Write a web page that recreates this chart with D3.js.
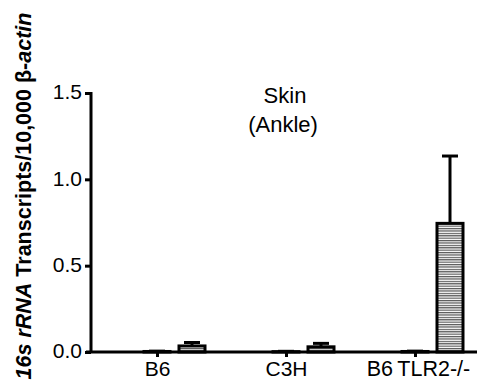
<!DOCTYPE html>
<html>
<head>
<meta charset="utf-8">
<script src="https://cdn.jsdelivr.net/npm/d3@7"></script>
<style>
body{margin:0;background:#fff}
text{font-family:Arial,"Liberation Sans",sans-serif}
</style>
</head>
<body>
<script>
var WIDTH = 477, HEIGHT = 392

var groups = ['B6', 'C3H', 'B6TLR2-/-']
var groupLabels = ['B6', 'C3H', 'B6\u2009TLR2-/-']
var controlMean = [0.003, 0.002, 0.003]
var controlErr = [0.002, 0.002, 0.002]
var infectedMean = [0.035, 0.03, 0.745]
var infectedErr = [0.02, 0.02, 0.39]
var yTicks = [0, 0.5, 1.0, 1.5]

var svg = d3.select('body').append('svg')
	.attr('width', WIDTH)
	.attr('height', HEIGHT)

var defs = svg.append('defs')
var pat = defs.append('pattern')
	.attr('id', 'hstripe')
	.attr('patternUnits', 'userSpaceOnUse')
	.attr('width', 6).attr('height', 2.4)
pat.append('rect').attr('width', 6).attr('height', 2.4).attr('fill', '#fff')
pat.append('rect').attr('width', 6).attr('height', 1.2).attr('fill', '#555')

var y = d3.scaleLinear().domain([0, 1.5]).range([352, 93])
var x = d3.scalePoint().domain(groups).range([157, 415])
var barW = 26, offset = 35

// bars
function drawBars(means, errs, dx, fill){
	var g = svg.append('g')
	groups.forEach(function(gname, i){
		var cx = x(gname) + dx
		var top = y(means[i] + errs[i])
		g.append('line')
			.attr('x1', cx).attr('x2', cx)
			.attr('y1', y(means[i])).attr('y2', top)
			.attr('stroke', '#000').attr('stroke-width', 3)
		g.append('line')
			.attr('x1', cx - 8).attr('x2', cx + 8)
			.attr('y1', top).attr('y2', top)
			.attr('stroke', '#000').attr('stroke-width', 3)
		g.append('rect')
			.attr('x', cx - barW / 2)
			.attr('y', y(means[i]))
			.attr('width', barW)
			.attr('height', y(0) - y(means[i]))
			.attr('fill', fill)
			.attr('stroke', '#000').attr('stroke-width', 3)
	})
}
drawBars(controlMean, controlErr, 0, '#fff')
drawBars(infectedMean, infectedErr, offset, 'url(#hstripe)')

// y axis
var yAxis = d3.axisLeft(y).tickValues(yTicks).tickFormat(d3.format('.1f')).tickSize(6).tickPadding(3)
var ya = svg.append('g').attr('transform', 'translate(91,0)').call(yAxis)
ya.select('.domain').remove()
ya.selectAll('.tick line').attr('stroke', '#000').attr('stroke-width', 3)
ya.selectAll('.tick text').attr('font-size', 21).attr('fill', '#000').attr('dy', '0.28em')
	.style('font-family', 'Arial, "Liberation Sans", sans-serif')
svg.append('line').attr('x1', 91).attr('x2', 91).attr('y1', 92).attr('y2', 353)
	.attr('stroke', '#000').attr('stroke-width', 3)

// x axis
var xAxis = d3.axisBottom(x).tickFormat(function(d, i){ return groupLabels[i] }).tickSize(5).tickPadding(4)
var xa = svg.append('g').attr('transform', 'translate(0,352)').call(xAxis)
xa.select('.domain').remove()
xa.selectAll('.tick line').attr('stroke', '#000').attr('stroke-width', 3)
xa.selectAll('.tick text').attr('font-size', 21).attr('fill', '#000')
	.style('font-family', 'Arial, "Liberation Sans", sans-serif')
xa.selectAll('.tick').filter(function(d){ return d === 'B6TLR2-/-' })
	.select('text').attr('dx', 3).attr('font-size', 21.5)
svg.append('line').attr('x1', 86).attr('x2', WIDTH).attr('y1', 352).attr('y2', 352)
	.attr('stroke', '#000').attr('stroke-width', 3)

// title
var title = svg.append('text').attr('text-anchor', 'middle').attr('font-size', 22)
title.append('tspan').attr('x', 285).attr('y', 103).text('Skin')
title.append('tspan').attr('x', 283).attr('y', 132).text('(Ankle)')

// y label
var yl = svg.append('text')
	.attr('transform', 'translate(31,196) rotate(-90)')
	.attr('text-anchor', 'middle')
	.attr('font-size', 21.5)
	.attr('font-weight', 'bold')
yl.append('tspan').attr('font-style', 'italic').text('16s rRNA')
yl.append('tspan').text(' Transcripts/10,000 \u03b2-')
yl.append('tspan').attr('font-style', 'italic').text('actin')
</script>
</body>
</html>
